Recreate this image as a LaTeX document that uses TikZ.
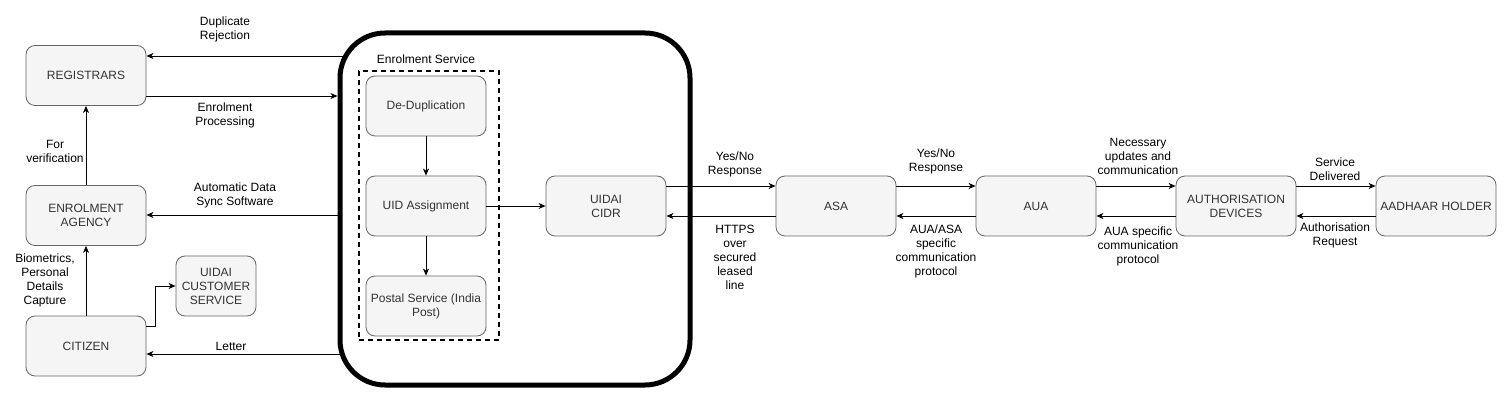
\documentclass[tikz,border=0pt]{standalone}
\usepackage{fontspec}
\setmainfont{Liberation Sans}
\usetikzlibrary{arrows.meta}
\definecolor{boxfill}{HTML}{F5F5F5}
\definecolor{boxline}{HTML}{666666}
\definecolor{boxtext}{HTML}{333333}
\begin{document}
\begin{tikzpicture}[x=1pt,y=-1pt,
  font=\fontsize{12}{14}\selectfont,
  box/.style={draw=boxline, fill=boxfill, rounded corners=9pt, minimum width=120pt, minimum height=60pt, align=center, text=boxtext, line width=0.8pt, inner sep=2pt},
  arr/.style={-{Stealth[length=7pt,width=6pt,inset=2pt]}, line width=0.9pt},
  lbl/.style={align=center, inner sep=0pt}]
\useasboundingbox (0,0) rectangle (1511,403);

% big enrolment container
\node[draw, line width=5pt, rounded corners=45pt, minimum width=350pt, minimum height=352pt, inner sep=0pt] (enr) at (515,209) {};
\node[draw, line width=1.5pt, dash pattern=on 5pt off 4pt, minimum width=140pt, minimum height=269pt, inner sep=0pt] (es) at (429,205.5) {};
\node[lbl] (estxt) at (426,59) {Enrolment Service};

% left nodes
\node[box] (reg) at (86,75.5) {REGISTRARS};
\node[box] (ea) at (86,215.5) {ENROLMENT\\AGENCY};
\node[box] (cit) at (86,346) {CITIZEN};
\node[box, minimum width=80pt] (ucs) at (216,286) {UIDAI\\CUSTOMER\\SERVICE};

% inner nodes
\node[box] (dd) at (426,106) {De-Duplication};
\node[box] (uid) at (426,206) {UID Assignment};
\node[box] (ps) at (426,306) {Postal Service (India\\Post)};

% right chain
\node[box] (cidr) at (606,206) {UIDAI\\CIDR};
\node[box] (asa) at (836,206) {ASA};
\node[box] (aua) at (1036,206) {AUA};
\node[box] (adev) at (1236,206) {AUTHORISATION\\DEVICES};
\node[box] (ah) at (1436,206) {AADHAAR HOLDER};

% coordinates on the container edge
\coordinate (dr) at (343,56);
\coordinate (ep) at (337.5,96);
\coordinate (sy) at (337.5,215);
\coordinate (lt) at (339.5,354);

\draw[arr] (dr) -- (dr -| reg.east);
\draw[arr] (reg.east |- ep) -- (ep);
\draw[arr] (sy) -- (sy -| ea.east);
\draw[arr] (lt) -- (lt -| cit.east);
\draw[arr] (ea.north) -- (reg.south);
\draw[arr] (cit.north) -- (ea.south);
\draw[arr] ([yshift=20pt]cit.east) -- ++(9,0) |- (ucs.west);

\draw[arr] (dd.south) -- (uid.north);
\draw[arr] (uid.south) -- (ps.north);
\draw[arr] (uid.east) -- (cidr.west);

\draw[arr] ([yshift=20pt]cidr.east) -- ([yshift=20pt]asa.west);
\draw[arr] ([yshift=-10pt]asa.west) -- ([yshift=-10pt]cidr.east);
\draw[arr] ([yshift=20pt]asa.east) -- ([yshift=20pt]aua.west);
\draw[arr] ([yshift=-10pt]aua.west) -- ([yshift=-10pt]asa.east);
\draw[arr] ([yshift=20pt]aua.east) -- ([yshift=20pt]adev.west);
\draw[arr] ([yshift=-10pt]adev.west) -- ([yshift=-10pt]aua.east);
\draw[arr] ([yshift=20pt]adev.east) -- ([yshift=20pt]ah.west);
\draw[arr] ([yshift=-10pt]ah.west) -- ([yshift=-10pt]adev.east);

% labels
\node[lbl] (l1) at (225,29) {Duplicate\\Rejection};
\node[lbl] (l2) at (225,115) {Enrolment\\Processing};
\node[lbl] (l3) at (55,151) {For\\verification};
\node[lbl] (l4) at (235,195) {Automatic Data\\Sync Software};
\node[lbl] (l5) at (45,280) {Biometrics,\\Personal\\Details\\Capture};
\node[lbl] (l6) at (231,346) {Letter};
\node[lbl] (l7) at (735,164) {Yes/No\\Response};
\node[lbl] (l8) at (735,257) {HTTPS\\over\\secured\\leased\\line};
\node[lbl] (l9) at (936,161) {Yes/No\\Response};
\node[lbl] (l10) at (936,251) {AUA/ASA\\specific\\communication\\protocol};
\node[lbl] (l11) at (1138,156) {Necessary\\updates and\\communication};
\node[lbl] (l12) at (1138,246) {AUA specific\\communication\\protocol};
\node[lbl] (l13) at (1335,169) {Service\\Delivered};
\node[lbl] (l14) at (1335,235) {Authorisation\\Request};
\end{tikzpicture}
\end{document}
